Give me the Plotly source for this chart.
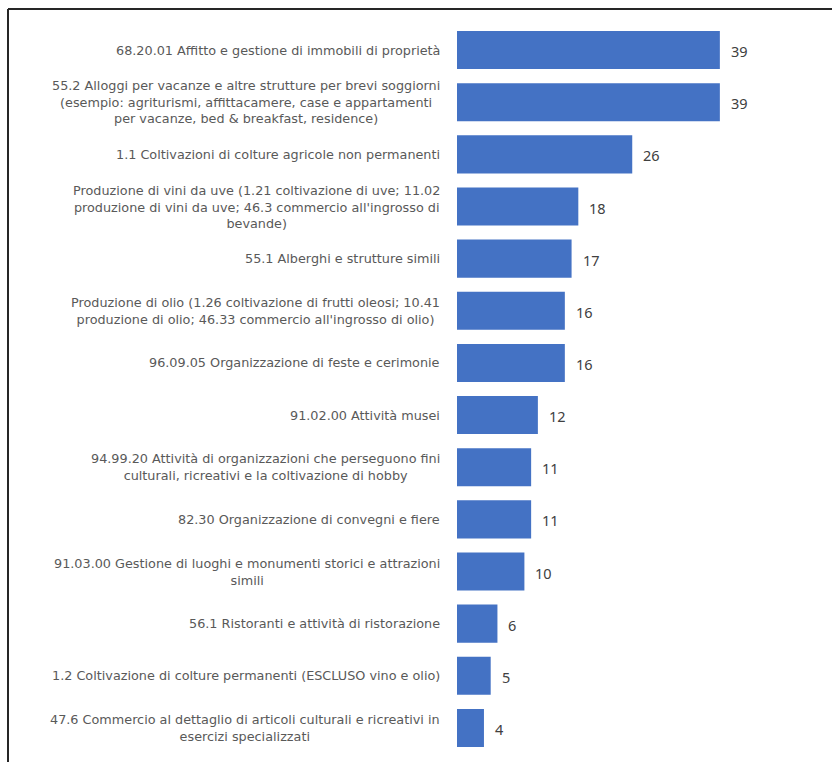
import plotly.graph_objects as go

# Activity categories (ATECO codes and descriptions), top to bottom
categories = [
    "68.20.01 Affitto e gestione di immobili di proprietà",
    "55.2 Alloggi per vacanze e altre strutture per brevi soggiorni<br>(esempio: agriturismi, affittacamere, case e appartamenti<br>per vacanze, bed & breakfast, residence)",
    "1.1 Coltivazioni di colture agricole non permanenti",
    "Produzione di vini da uve (1.21 coltivazione di uve; 11.02<br>produzione di vini da uve; 46.3 commercio all'ingrosso di<br>bevande)",
    "55.1 Alberghi e strutture simili",
    "Produzione di olio (1.26 coltivazione di frutti oleosi; 10.41<br>produzione di olio; 46.33 commercio all'ingrosso di olio)",
    "96.09.05 Organizzazione di feste e cerimonie",
    "91.02.00 Attività musei",
    "94.99.20 Attività di organizzazioni che perseguono fini<br>culturali, ricreativi e la coltivazione di hobby",
    "82.30 Organizzazione di convegni e fiere",
    "91.03.00 Gestione di luoghi e monumenti storici e attrazioni<br>simili",
    "56.1 Ristoranti e attività di ristorazione",
    "1.2 Coltivazione di colture permanenti (ESCLUSO vino e olio)",
    "47.6 Commercio al dettaglio di articoli culturali e ricreativi in<br>esercizi specializzati",
]
values = [39, 39, 26, 18, 17, 16, 16, 12, 11, 11, 10, 6, 5, 4]

W, H = 832, 762
ML, MR, MT, MB = 457, 38, 24, 8
plot_w = W - ML - MR
plot_h = H - MT - MB

fig = go.Figure()
fig.add_trace(go.Bar(
    x=values,
    y=list(range(len(categories))),
    orientation="h",
    marker=dict(color="#4472C4", line=dict(width=0)),
    hoverinfo="skip",
))

annotations = []
for i, (cat, val) in enumerate(zip(categories, values)):
    # category label, centre-aligned block to the left of the bars
    annotations.append(dict(
        x=0, xref="paper", y=i, yref="y",
        text=cat, showarrow=False,
        xanchor="right", yanchor="middle", align="center",
        xshift=-15,
        font=dict(family="DejaVu Sans", size=12.8, color="#595959"),
    ))
    # value label just past the bar end
    annotations.append(dict(
        x=val, xref="x", y=i, yref="y",
        text=str(val), showarrow=False,
        xanchor="left", yanchor="middle",
        xshift=9, yshift=-1,
        font=dict(family="Noto Sans", size=14.5, color="#404040"),
    ))

# frame lines along the top and left edges
x_left = (8 - ML) / plot_w
y_top = 1 + (MT - 9) / plot_h
shapes = [
    dict(type="line", xref="paper", yref="paper",
         x0=x_left, x1=2, y0=y_top, y1=y_top,
         line=dict(color="#262626", width=2)),
    dict(type="line", xref="paper", yref="paper",
         x0=x_left, x1=x_left, y0=y_top, y1=-0.1,
         line=dict(color="#262626", width=2)),
]

fig.update_layout(
    width=W, height=H,
    margin=dict(l=ML, r=MR, t=MT, b=MB, pad=0),
    paper_bgcolor="white", plot_bgcolor="white",
    showlegend=False,
    bargap=0.27,
    xaxis=dict(range=[0, 50], visible=False, fixedrange=True),
    yaxis=dict(range=[len(categories) - 0.5, -0.5], visible=False, fixedrange=True),
    annotations=annotations,
    shapes=shapes,
)

fig.write_html("out.html", config={"displayModeBar": False})
